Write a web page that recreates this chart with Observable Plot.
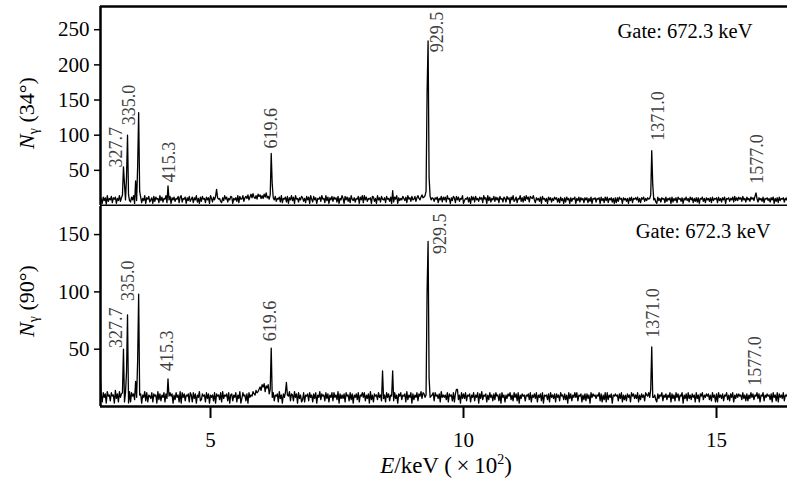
<!DOCTYPE html>
<html><head><meta charset="utf-8">
<script src="https://cdn.jsdelivr.net/npm/d3@7"></script>
<script src="https://cdn.jsdelivr.net/npm/@observablehq/plot@0.6"></script>
<style>
body{margin:0;background:#fff;}
#chart{position:relative;width:787px;}
#chart svg{display:block;}
</style></head><body><div id="chart"></div>
<script>
// Channel grid: energy (keV) = firstChannel + channelStep * index
const firstChannel = 282;
const channelStep = 2;

// Background counts, one base-36 character per channel (groups of 10 channels = 20 keV)
const background34 =
 "5a3c7b2e6a 8d4b9c3a7e 6b94a8c5e7 5c8e3b7a9d c4a7e3b9d5 8b3d6c9a4e 7c5a9e4b8d 3b8c6a9d4c e5a9c3b7d6 9c4b8e5a3c " +
 "6d9a4c8b3e a5c8d3b9a6 4b7e9c5a8d c3a8b6e4d9 9e6bdaf8cg bhcae9gdfa eagcibd9fa ab8d6a9c5e 4a9c5d3b8e 7c3e9a5b8d " +
 "b6a4d8c3e9 5d8b3a9c6e 9a4e7c3b8d 6c9b5d3a8e a3d8c6b4e9 7b5a9d3c8e 4e8c6a9b3d c6a3e8b5d9 8b4d9a6c3e 5c9e3b7a8d " +
 "a7c4e9b6d8 9d6bea8cfb ce9abcd8ba 6b9c4a8d5c 8c5e9a3b7d b4d8c6a9e3 7a9c5b3d8c 5d8a6c9b4e 9b3e7c5a8d 6c8b4d9a5c " +
 "a5d9b3c8e6 8c4a9e6b5d 7e9c5dbae8 4b8a6c3d9a 6a3c8b5a7c 9b5a4c7a3b 5c8a3b6a9c 3a7c5b8a4b 8b4a6c3a9b 5a9b3c7a4c " +
 "7c4a8b5a3b 4b6c9a3b8a 6a3b7c4a9b 8c5a4b9c6a 7b9a8888a5 3c7a5b9a4c 6a8b3c5a7b 4c9a6b3a8c 7a5c8b4a6b 5b3a9c6a4b " +
 "8a6b4c7a9b 4c7a5b8c3a 9b6a8c5d7b 7c9b6d8a5c 8a6c9b7d8a 5b8a6c4a9b 7a5b8c3a6b 4c7a9b5a8c 6a8b4c7a5b";
const background90 =
 "0a4c8b3d9a 5c9a3e7b4d 8b6a4c5a3d 4c9b6a8c5a b3a8d5c4a9 7c4b9a3d6b 5a8c4b7a9c 9b3a6c8a4d 3c8b5a9b4c a4c7b3a8d5 " +
 "6b9a4c7b3a 8a5c3b9a6c 4d7a9b5c3a b5a8c4a7d3 7c9a5b3c8a 9dbaecdfhe jhkdigjbaa 8c5a9b4d7a 3b8c6a9d5b a5d8b3c7a4 " +
 "6c4a9b5c8a 4b7c3a8d6b 9a5c7b4a8c 5c8a6d3b7a 7b4c9a5c6b 3a8b6c4a9c 8c5a7b3d6a 4b9a6c8a5a 7a4c8b5a9a 5c7a3b9c6a " +
 "9b4d6a8c3b 6a8c5b9d7c b8a88889ac 5c9a7b4d8a 8a6c4b9a5c 4b8f6a3c7b 7c5a9b4a8c 5a8c3b7d6a 9b4a6c8a5b 6c9a5b3c8a " +
 "4a7b9c6a5c 8b5c3a7b9a 5a9b6c4a8b 7c4a8b5c3a 9a6b4c8a7b 4b8a5c9a6b 6a3c7b5a8c 8c5a9b4a6b 5b7a3c8b9a 7a9c5b4a6c " +
 "4c6a8b3a9b 9a5b7c4a6a 5b8a4c9b7a 7c4a6b8a5c a9c8b888a6 4b7a9c5a8b 6a8c4b7a5c 8b5a9c3a7b 5c7a6b8a4c 7a4b9c6a8b " +
 "9b6a5c8a4b 4c8a7b5a9c 6a5b8c4a7b 8b9a6c7a5b 5a7c8b6a4c 7b4a9c5a8b 9a6b4c8a5c 4b8a7c5a9b 6a5c8b4a7b";

// Peak channels (keV) and their counts
const peakE34 = [326, 328, 330, 334, 336, 338, 352, 356, 358, 360, 416, 512, 618, 620, 622, 860, 926, 928, 930, 932, 1370, 1372, 1374, 1578];
const peakN34 = [15, 55, 30, 40, 100, 15, 35, 55, 132, 20, 28, 23, 15, 74, 30, 21, 20, 160, 234, 40, 15, 78, 30, 18];
const peakE90 = [282, 326, 328, 334, 336, 352, 356, 358, 416, 618, 620, 650, 840, 860, 928, 930, 932, 986, 1362, 1370, 1372, 1578];
const peakN90 = [29, 12, 50, 30, 80, 22, 40, 98, 24, 15, 51, 21, 31, 31, 100, 144, 25, 15, 10, 15, 52, 9];

// Peak labels
const peakLabels = ["327.7", "335.0", "415.3", "619.6", "929.5", "1371.0", "1577.0"];
const labelX34 = [3.142, 3.40, 4.19, 6.205, 9.486, 13.85, 15.81];
const labelY34 = [54, 114, 33, 81, 218, 92, 31];
const labelX90 = [3.142, 3.38, 4.15, 6.19, 9.545, 13.75, 15.77];
const labelY90 = [51, 92, 31, 57, 133, 60, 18];

const gateText = "Gate: 672.3 keV";
const angles = ["(34°)", "(90°)"];
const yTicks34 = [50, 100, 150, 200, 250];
const yTicks90 = [50, 100, 150];
const xTicks = [5, 10, 15];

function spectrum(bg, pe, pn) {
  const counts = bg.replace(/\s/g, "").split("").map(c => parseInt(c, 36));
  pe.forEach((e, k) => { counts[Math.round((e - firstChannel) / channelStep)] = pn[k]; });
  return counts.map((n, i) => ({E: (firstChannel + channelStep * i) / 100, N: n}));
}
const data34 = spectrum(background34, peakE34, peakN34);
const data90 = spectrum(background90, peakE90, peakN90);

const FONT = "Liberation Serif, 'Times New Roman', serif";
const xDomain = [2.826, 16.403];

const topPlot = Plot.plot({
  width: 787, height: 206, marginLeft: 100, marginRight: 0, marginTop: 6, marginBottom: 1,
  style: {fontFamily: FONT, fontSize: "21px", background: "white", color: "black"},
  x: {domain: xDomain, axis: null},
  y: {domain: [0, 283]},
  marks: [
    Plot.axisY(yTicks34, {tickSize: 6, tickPadding: 5, fontSize: 21, label: null, strokeWidth: 1.5}),
    Plot.line(data34, {x: "E", y: "N", stroke: "black", strokeWidth: 1.3, clip: true}),
    Plot.ruleY([283], {stroke: "black", strokeWidth: 2.5}),
    Plot.ruleY([0], {stroke: "black", strokeWidth: 2}),
    Plot.ruleX([xDomain[0]], {stroke: "black", strokeWidth: 2.5}),
    Plot.text(peakLabels, {x: labelX34, y: labelY34, text: d => d, rotate: -90, textAnchor: "start", fontSize: 18, fill: "#404040"}),
    Plot.text([gateText], {x: [15.71], y: [248], text: d => d, textAnchor: "end", fontSize: 20.5, fill: "black"})
  ]
});

const bottomPlot = Plot.plot({
  width: 787, height: 282, marginLeft: 100, marginRight: 0, marginTop: 0, marginBottom: 82,
  style: {fontFamily: FONT, fontSize: "21px", background: "white", color: "black"},
  x: {domain: xDomain},
  y: {domain: [0, 174.5]},
  marks: [
    Plot.axisY(yTicks90, {tickSize: 6, tickPadding: 5, fontSize: 21, label: null, strokeWidth: 1.5}),
    Plot.axisX(xTicks, {tickSize: 12, tickPadding: 14, fontSize: 21, label: null, strokeWidth: 2}),
    Plot.line(data90, {x: "E", y: "N", stroke: "black", strokeWidth: 1.3, clip: true}),
    Plot.ruleY([0], {stroke: "black", strokeWidth: 2.5}),
    Plot.ruleX([xDomain[0]], {stroke: "black", strokeWidth: 2.5}),
    Plot.text(peakLabels, {x: labelX90, y: labelY90, text: d => d, rotate: -90, textAnchor: "start", fontSize: 18, fill: "#404040"}),
    Plot.text([gateText], {x: [16.07], y: [153], text: d => d, textAnchor: "end", fontSize: 20.5, fill: "black"})
  ]
});

function yLabel(svg, cx, cy, angle) {
  const t = d3.select(svg).append("text")
    .attr("transform", `translate(${cx},${cy}) rotate(-90)`)
    .attr("text-anchor", "middle").attr("font-family", FONT)
    .attr("font-size", 22).attr("fill", "black");
  t.append("tspan").attr("font-style", "italic").text("N");
  t.append("tspan").attr("font-size", 14).attr("dy", 4).text("γ");
  t.append("tspan").attr("dy", -4).text(" " + angle);
}
yLabel(topPlot, 34, 113, angles[0]);
yLabel(bottomPlot, 34, 95, angles[1]);

const xl = d3.select(bottomPlot).append("text")
  .attr("x", 446).attr("y", 267).attr("text-anchor", "middle")
  .attr("font-family", FONT).attr("font-size", 23).attr("fill", "black");
xl.append("tspan").attr("font-style", "italic").text("E");
xl.append("tspan").text("/keV (\u2009×\u200910");
xl.append("tspan").attr("font-size", 14).attr("dy", -9).text("2");
xl.append("tspan").attr("dy", 9).text(")");

const chart = document.getElementById("chart");
chart.appendChild(topPlot);
chart.appendChild(bottomPlot);
</script></body></html>
